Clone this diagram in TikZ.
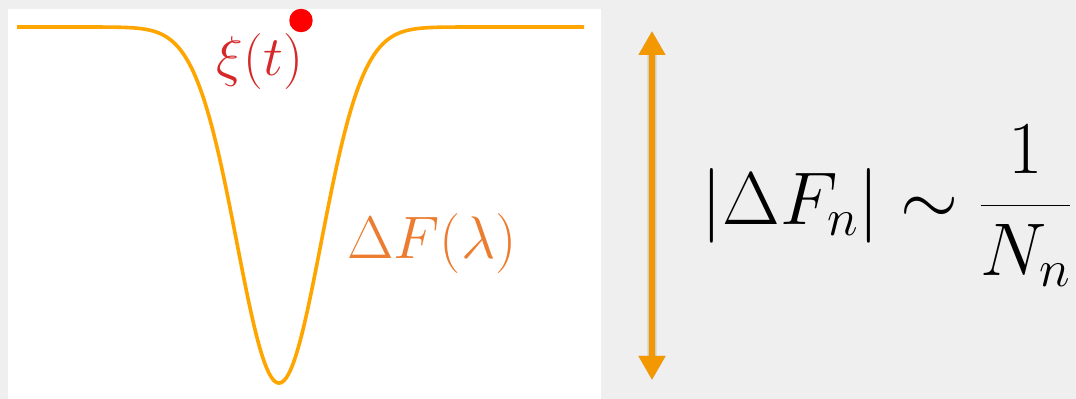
\RequirePackage{fix-cm}
\documentclass[tikz,border=0pt]{standalone}
\usepackage{amsmath}
\usetikzlibrary{arrows.meta}
\definecolor{bg}{RGB}{239,239,239}
\definecolor{curvec}{RGB}{255,165,0}
\definecolor{arrowc}{RGB}{243,152,0}
\definecolor{xired}{RGB}{214,40,40}
\definecolor{dforange}{RGB}{236,124,48}
\definecolor{dotred}{RGB}{255,0,0}
\tikzset{
  lbl/.style={inner sep=0pt, outer sep=0pt, anchor=base},
  vararrow/.style={arrowc, line width=4.5pt, {Triangle[length=18pt,width=19pt]}-{Triangle[length=18pt,width=19pt]}},
  shadowarrow/.style={black, line width=#1, opacity=0.07, {Triangle[length=18pt,width=19pt]}-{Triangle[length=18pt,width=19pt]}, line join=round}
}
\begin{document}
\begin{tikzpicture}[x=0.75pt,y=-0.75pt]
\fill[bg] (0,0) rectangle (1076,399);
\useasboundingbox (0,0) rectangle (1076,399);
\fill[white] (8,9) rectangle (601,399);
% energy curve
\draw[curvec, line width=2.7pt, line join=round]
  plot[domain=17:584, samples=300, smooth] (\x, {27+356*exp(-(((\x-279)/59.5)*((\x-279)/59.5)))});
% particle
\fill[dotred] (301,20.5) circle (8.8pt);
\node[lbl, text=xired, font=\fontsize{42}{50}\selectfont] (xi) at (260,75.5) {$\xi(t)$};
\node[lbl, text=dforange, font=\fontsize{45}{54}\selectfont] (dF) at (432,258.5) {$\Delta F(\lambda)$};
% arrow
\coordinate (top) at (652,31);
\coordinate (bot) at (652,380);
\begin{scope}[shift={(1,4)}]
  \draw[shadowarrow=8pt] (top) -- (bot);
  \draw[shadowarrow=6pt] (top) -- (bot);
  \draw[shadowarrow=4.5pt] (top) -- (bot);
\end{scope}
\draw[vararrow] (top) -- (bot);
% formula
\node[lbl, font=\fontsize{56}{66}\selectfont] (eq) at (887,224.5) {$\displaystyle |\Delta F_n| \sim \frac{1}{N_n}$};
\end{tikzpicture}
\end{document}
